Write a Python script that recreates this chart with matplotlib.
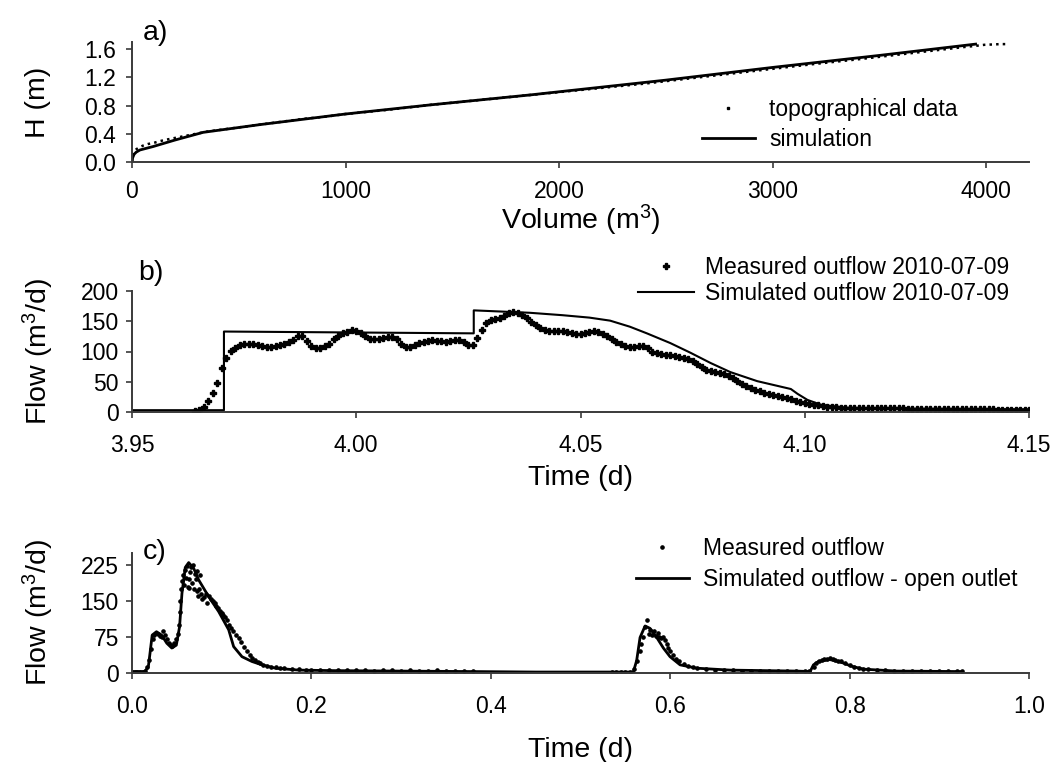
import matplotlib
matplotlib.use('Agg')
import matplotlib.pyplot as plt
from matplotlib.lines import Line2D
from matplotlib.ticker import FormatStrFormatter
import numpy as np

plt.rcParams['font.family'] = ['Liberation Sans', 'DejaVu Sans']
plt.rcParams['mathtext.fontset'] = 'custom'
plt.rcParams['mathtext.rm'] = 'Liberation Sans'
plt.rcParams['mathtext.it'] = 'Liberation Sans:italic'

# ---- a) stage-volume curve
topo_v = [0, 2, 5, 10, 20, 35, 50, 75, 100, 150, 200, 250, 300, 350, 400, 500, 600, 700,
          800, 900, 1000, 1200, 1400, 1600, 1800, 2000, 2200, 2400, 2600, 2800, 3000, 3200,
          3400, 3600, 3800, 3900, 3950, 3990, 4030, 4066, 4098]
topo_h = [0, 0.07, 0.11, 0.15, 0.18, 0.21, 0.23, 0.255, 0.27, 0.31, 0.34, 0.37, 0.40, 0.43, 0.45,
          0.49, 0.53, 0.57, 0.61, 0.64, 0.68, 0.74, 0.81, 0.87, 0.93, 0.99, 1.05, 1.11, 1.18,
          1.25, 1.32, 1.39, 1.455, 1.525, 1.595, 1.63, 1.645, 1.66, 1.665, 1.67, 1.67]
sim_v = [0, 3, 10, 20, 37, 100, 200, 333, 600, 1000, 1400, 1864, 2500, 3000, 3500, 3950]
sim_h = [0, 0.06, 0.11, 0.14, 0.17, 0.22, 0.31, 0.42, 0.53, 0.68, 0.81, 0.95, 1.16, 1.34, 1.51, 1.67]

# ---- b) outflow 2010-07-09 (logger sample every 0.001 d)
meas_b_t = np.round(np.arange(3.964, 4.1505, 0.001), 3)
meas_b_q = [1, 3, 9, 18, 32, 48, 72, 90, 101, 106,
            110, 112, 113, 112, 111, 109, 108, 108, 109, 111,
            112, 115, 119, 126, 125, 117, 109, 106, 105, 109,
            113, 120, 126, 130, 133, 135, 134, 131, 126, 121,
            120, 121, 122, 124, 124, 120, 112, 107, 107, 111,
            114, 116, 118, 119, 118, 117, 116, 117, 119, 119,
            116, 111, 111, 122, 136, 147, 152, 154, 155, 158,
            163, 165, 164, 160, 155, 148, 143, 139, 136, 134,
            134, 134, 134, 133, 131, 129, 129, 130, 133, 134,
            132, 129, 125, 120, 116, 112, 109, 108, 108, 109,
            109, 105, 100, 97, 96, 95, 94, 93, 91, 89,
            87, 85, 80, 74, 70, 68, 66, 64, 62, 59,
            56, 52, 47, 43, 39, 37, 34, 32, 30, 28,
            27, 25, 23, 21, 19, 17, 15, 14, 12, 11,
            10, 9, 8, 8, 7, 7, 7, 7, 6, 6,
            6, 6, 6, 6, 6, 6, 6, 6, 6, 5,
            5, 5, 5, 5, 5, 5, 5, 5, 5, 5,
            5, 5, 5, 5, 5, 5, 5, 5, 5, 4,
            4, 4, 4, 4, 4, 4, 4]
sim_b_t = [3.95, 3.9705, 3.9705, 4.0262, 4.0262, 4.0387, 4.046, 4.052, 4.0566, 4.061, 4.0648,
           4.07, 4.0745, 4.079, 4.0834, 4.0894, 4.0969, 4.0984, 4.1006, 4.1036, 4.1095, 4.12, 4.15]
sim_b_q = [3, 3, 133, 130, 168, 164, 160, 156, 151, 141, 130,
           114, 98, 81, 66, 51, 38, 30, 20, 12, 7, 5.5, 4.5]

# ---- c) outflow, open outlet
meas_c_t = [0.000, 0.003, 0.006, 0.009, 0.012, 0.015, 0.017, 0.019, 0.021, 0.023, 0.025,
            0.027, 0.029, 0.031, 0.033, 0.035, 0.037, 0.039, 0.041, 0.043, 0.045, 0.047,
            0.049, 0.051, 0.052, 0.053, 0.054, 0.055, 0.056, 0.057, 0.058, 0.059, 0.060,
            0.061, 0.062, 0.063, 0.064, 0.065, 0.066, 0.067, 0.068, 0.069, 0.070, 0.071,
            0.072, 0.073, 0.074, 0.075, 0.076, 0.077, 0.078, 0.080, 0.082, 0.084, 0.086,
            0.088, 0.090, 0.092, 0.094, 0.096, 0.098, 0.100, 0.102, 0.104, 0.106, 0.108,
            0.110, 0.113, 0.116, 0.119, 0.122, 0.125, 0.128, 0.131, 0.134, 0.137, 0.140,
            0.143, 0.146, 0.150, 0.155, 0.160, 0.165, 0.170, 0.178, 0.186, 0.194,
            0.20, 0.21, 0.22, 0.23, 0.24, 0.25, 0.26, 0.27, 0.28, 0.29, 0.30, 0.31, 0.32,
            0.33, 0.34, 0.35, 0.36, 0.37, 0.38,
            0.535, 0.540, 0.545, 0.550, 0.555, 0.560, 0.563, 0.566, 0.568, 0.570, 0.572,
            0.574, 0.576, 0.578, 0.580, 0.582, 0.584, 0.586, 0.588, 0.590, 0.592, 0.594,
            0.596, 0.598, 0.600, 0.603, 0.606, 0.610, 0.615, 0.620, 0.625, 0.630, 0.640,
            0.650, 0.66, 0.67, 0.68, 0.69, 0.70, 0.71, 0.72, 0.73, 0.74, 0.75,
            0.755, 0.760, 0.763, 0.766, 0.769, 0.772, 0.775, 0.778, 0.781, 0.784, 0.787,
            0.790, 0.795, 0.800, 0.805, 0.810, 0.815, 0.82, 0.83, 0.84, 0.85, 0.86, 0.87,
            0.88, 0.89, 0.90, 0.91, 0.92, 0.925]
meas_c_q = [3, 3, 2, 3, 3, 5, 12, 28, 50, 70, 80,
            84, 82, 78, 75, 88, 80, 70, 62, 58, 56, 62,
            70, 82, 100, 128, 150, 175, 192, 205, 184, 215, 198,
            222, 180, 196, 178, 210, 220, 188, 225, 176, 207, 195,
            170, 212, 160, 175, 205, 165, 155, 158, 165, 145, 160,
            155, 150, 145, 140, 136, 130, 125, 120, 116, 110, 100,
            93, 88, 80, 72, 65, 55, 45, 38, 32, 27, 23,
            20, 17, 14, 13, 12, 11, 10, 9, 8, 7,
            7, 6, 7, 6, 6, 7, 6, 5, 6, 6, 5, 6, 5,
            5, 6, 5, 5, 5, 5,
            2, 2, 2, 3, 3, 8, 25, 45, 60, 75, 95,
            110, 82, 90, 80, 88, 78, 84, 76, 72, 74, 68,
            60, 52, 45, 38, 30, 24, 18, 14, 12, 10, 8,
            7, 6, 6, 5, 5, 5, 5, 4, 4, 4, 4,
            5, 12, 20, 25, 27, 29, 30, 31, 29, 28, 26,
            24, 20, 16, 13, 11, 9, 8, 7, 6, 5, 5, 4,
            4, 4, 4, 4, 4, 4]
sim_c_t = [0.0, 0.0143, 0.0182, 0.0200, 0.0225, 0.0273, 0.033, 0.0388, 0.0444, 0.0494, 0.053,
           0.0557, 0.0594, 0.0632, 0.0688, 0.0743, 0.0855, 0.0966, 0.1078, 0.1133, 0.1226,
           0.1337, 0.1449, 0.1598, 0.186, 0.223, 0.298, 0.38, 0.45, 0.5589, 0.5626, 0.5664,
           0.572, 0.5775, 0.585, 0.5924, 0.5998, 0.611, 0.6296, 0.667, 0.741, 0.756, 0.7597,
           0.7653, 0.778, 0.7912, 0.8024, 0.8154, 0.8525, 0.925]
sim_c_q = [3, 3, 13, 40, 79, 86, 79, 62, 52, 58, 96,
           166, 220, 230, 218, 194, 159, 128, 90, 55, 34,
           24, 17, 10, 6, 5, 4, 3, 2, 2, 26, 74,
           98, 93, 74, 52, 34, 17, 10, 6, 4, 3, 17,
           24, 28, 22, 14, 8, 4, 3]

W, H = 1060, 762
fig = plt.figure(figsize=(W / 100, H / 100), dpi=100)


def axes_px(left, top, right, bottom):
    return fig.add_axes([left / W, 1 - bottom / H, (right - left) / W, (bottom - top) / H])


spine_col = '#3a3a3a'


def style(ax, ypad, xpad=11):
    for s in ['top', 'right']:
        ax.spines[s].set_visible(False)
    for s in ['left', 'bottom']:
        ax.spines[s].set_color(spine_col)
        ax.spines[s].set_linewidth(1.4)
    ax.tick_params(axis='x', length=4.5, width=1.2, color=spine_col, pad=xpad, labelsize=16.5)
    ax.tick_params(axis='y', length=4.5, width=1.2, color=spine_col, pad=ypad, labelsize=16.5)


leg_kw = dict(frameon=False, fontsize=16.5, loc='upper left', borderaxespad=0, borderpad=0,
              bbox_transform=fig.transFigure, numpoints=1)

# a)
ax1 = axes_px(132, 42, 1029, 162)
ax1.plot(topo_v, topo_h, ls=':', lw=1.8, color='k')
ax1.plot(sim_v, sim_h, '-', lw=2, color='k')
ax1.set_xlim(0, 4200)
ax1.set_ylim(0, 1.7)
ax1.set_xticks([0, 1000, 2000, 3000, 4000])
ax1.set_yticks([0, 0.4, 0.8, 1.2, 1.6])
ax1.yaxis.set_major_formatter(FormatStrFormatter('%.1f'))
style(ax1, 7, xpad=8.5)
ax1.set_xlabel('Volume (m$^3$)', fontsize=20.5, va='baseline')
ax1.xaxis.set_label_coords(0.5, (162 - 229) / 120)
ax1.set_ylabel('H (m)', fontsize=20.5, va='center')
ax1.yaxis.set_label_coords((38 - 132) / 897, 0.5)
ax1.text((143 - 132) / 897, (162 - 40) / 120, 'a)', transform=ax1.transAxes, fontsize=20.5,
         va='baseline')
h_topo = Line2D([], [], ls='none', marker='s', ms=1.6, color='k')
h_sim = Line2D([], [], ls='-', lw=2, color='k')
ax1.legend([h_topo, h_sim], ['topographical data', 'simulation'],
           bbox_to_anchor=(702 / W, 1 - 98 / H), handlelength=2.3, handletextpad=0.63,
           labelspacing=0.3, **leg_kw)

# b)
ax2 = axes_px(132, 291, 1029, 412)
ax2.plot(meas_b_t, meas_b_q, ls='none', marker='P', ms=5, color='k',
         label='Measured outflow 2010-07-09')
ax2.plot(sim_b_t, sim_b_q, '-', lw=1.5, color='k', label='Simulated outflow 2010-07-09')
ax2.set_xlim(3.95, 4.15)
ax2.set_ylim(0, 200)
ax2.set_xticks([3.95, 4.00, 4.05, 4.10, 4.15])
ax2.set_yticks([0, 50, 100, 150, 200])
ax2.xaxis.set_major_formatter(FormatStrFormatter('%.2f'))
style(ax2, 5)
ax2.set_xlabel('Time (d)', fontsize=20.5, va='baseline')
ax2.xaxis.set_label_coords(0.5, (412 - 485) / 121)
ax2.set_ylabel('Flow (m$^3$/d)', fontsize=20.5, va='center')
ax2.yaxis.set_label_coords((38 - 132) / 897, 0.5)
ax2.text((138 - 132) / 897, (412 - 280) / 121, 'b)', transform=ax2.transAxes, fontsize=20.5,
         va='baseline')
ax2.legend(bbox_to_anchor=(638 / W, 1 - 256 / H), handlelength=2.43, handletextpad=0.5,
           labelspacing=0.15, **leg_kw)

# c)
ax3 = axes_px(132, 553, 1029, 673)
ax3.plot(meas_c_t, meas_c_q, ls='none', marker='o', ms=2.3, color='k', label='Measured outflow')
ax3.plot(sim_c_t, sim_c_q, '-', lw=2, color='k', label='Simulated outflow - open outlet')
ax3.set_xlim(0, 1.0)
ax3.set_ylim(0, 250)
ax3.set_xticks([0, 0.2, 0.4, 0.6, 0.8, 1.0])
ax3.set_yticks([0, 75, 150, 225])
ax3.xaxis.set_major_formatter(FormatStrFormatter('%.1f'))
style(ax3, 5)
ax3.set_xlabel('Time (d)', fontsize=20.5, va='baseline')
ax3.xaxis.set_label_coords(0.5, (673 - 757) / 120)
ax3.set_ylabel('Flow (m$^3$/d)', fontsize=20.5, va='center')
ax3.yaxis.set_label_coords((38 - 132) / 897, 0.5)
ax3.text((143 - 132) / 897, (673 - 559) / 120, 'c)', transform=ax3.transAxes, fontsize=20.5,
         va='baseline')
ax3.legend(bbox_to_anchor=(636 / W, 1 - 537 / H), handlelength=2.3, handletextpad=0.63,
           labelspacing=0.35, **leg_kw)

fig.savefig('out.png', dpi=100)
